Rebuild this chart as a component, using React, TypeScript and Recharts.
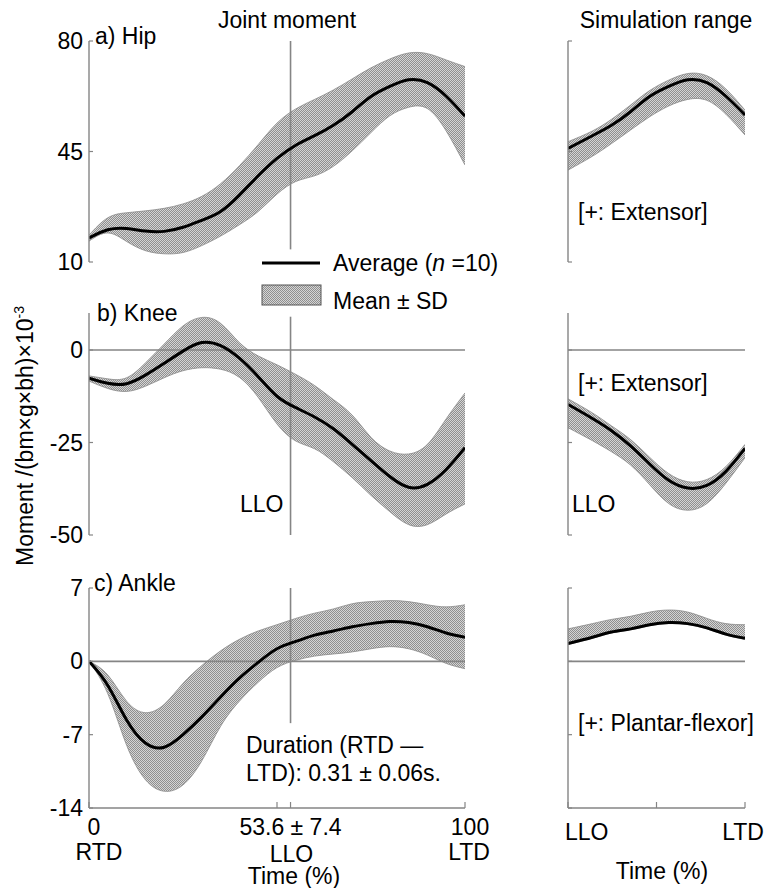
import React from "react";
import { ComposedChart, Area, Line, XAxis, YAxis, ReferenceLine } from "recharts";

// ---------- data ----------
const timeFull = [0, 5, 10, 15, 20, 25, 30, 35, 40, 45, 50, 55, 60, 65, 70, 75, 80, 85, 90, 95, 100];
const timeSim = [53.6, 60, 65, 70, 75, 80, 85, 90, 95, 100];

const hipMean = [17.6, 20.2, 20.6, 19.8, 19.7, 21.0, 23.2, 26.0, 31.2, 37.3, 42.8, 47.0, 50.0, 53.3, 57.6, 62.4, 65.6, 67.7, 66.8, 62.5, 56.2];
const hipUpper = [18.5, 24.0, 25.6, 26.2, 27.0, 28.4, 30.8, 34.8, 40.5, 47.2, 54.0, 58.5, 61.5, 64.5, 68.0, 71.5, 74.3, 76.2, 76.0, 74.0, 71.9];
const hipLower = [16.6, 19.2, 16.5, 13.6, 12.6, 13.0, 15.2, 18.2, 21.8, 26.0, 31.5, 35.5, 37.3, 40.3, 45.2, 51.0, 56.3, 59.0, 58.6, 51.5, 40.7];

const kneeMean = [-7.6, -9.0, -9.1, -6.8, -3.6, -0.3, 2.0, 1.2, -2.2, -7.2, -12.5, -15.6, -18.1, -21.3, -25.5, -29.9, -34.2, -37.1, -36.3, -32.3, -26.4];
const kneeUpper = [-7.0, -7.8, -7.5, -3.5, 1.6, 6.5, 8.8, 7.2, 2.0, -1.6, -4.0, -6.6, -9.6, -13.4, -17.6, -23.6, -27.3, -28.1, -25.5, -18.6, -11.6];
const kneeLower = [-8.4, -10.4, -11.2, -9.8, -7.5, -5.6, -4.8, -5.2, -7.4, -12.8, -20.0, -24.6, -26.7, -30.2, -34.5, -39.3, -43.7, -47.2, -47.2, -44.3, -41.6];

const ankleMean = [0, -2.3, -5.6, -7.8, -8.2, -7.0, -5.3, -3.4, -1.6, -0.1, 1.2, 1.9, 2.5, 2.9, 3.3, 3.6, 3.8, 3.7, 3.3, 2.7, 2.3];
const ankleUpper = [0, -1.3, -3.8, -4.9, -4.1, -2.1, -0.4, 1.0, 2.1, 2.9, 3.5, 4.1, 4.6, 5.0, 5.5, 5.7, 5.8, 5.7, 5.4, 5.2, 5.4];
const ankleLower = [0, -3.1, -8.0, -11.3, -12.4, -11.8, -9.5, -6.2, -3.8, -2.0, -0.6, 0.1, 0.5, 0.7, 0.9, 1.2, 1.4, 1.2, 0.6, -0.2, -0.7];

const simHipMean = [46.0, 50.0, 53.3, 57.6, 62.4, 65.6, 67.7, 66.8, 62.5, 56.6];
const simHipUpper = [48.1, 51.5, 55.2, 59.7, 64.3, 67.6, 69.7, 69.0, 64.8, 58.1];
const simHipLower = [39.1, 43.5, 47.5, 51.8, 56.0, 59.4, 61.5, 61.2, 56.8, 50.2];

const simKneeMean = [-14.7, -18.5, -21.8, -25.9, -30.8, -35.2, -37.3, -36.6, -32.8, -26.6];
const simKneeUpper = [-13.2, -17.0, -20.5, -24.2, -29.0, -33.4, -35.6, -35.0, -31.5, -25.5];
const simKneeLower = [-21.0, -24.5, -27.5, -31.1, -36.4, -41.5, -43.3, -41.5, -36.0, -29.1];

const simAnkleMean = [1.7, 2.3, 2.8, 3.1, 3.5, 3.7, 3.6, 3.2, 2.6, 2.2];
const simAnkleUpper = [3.1, 3.6, 4.0, 4.3, 4.7, 4.9, 4.7, 4.1, 3.6, 3.5];
const simAnkleLower = [1.6, 2.2, 2.7, 3.0, 3.4, 3.6, 3.5, 3.1, 2.5, 2.1];

const hipTicks = [10, 45, 80];
const kneeTicks = [-50, -25, 0];
const ankleTicks = [-14, -7, 0, 7];

const LLO = 53.6;
const leftXTicks = [0, 50, 53.6, 100];
const leftXLabels: Record<string, [string, string]> = {
  "0": ["0", "RTD"],
  "53.6": ["53.6 ± 7.4", "LLO"],
  "100": ["100", "LTD"],
};
const rightXTicks = [53.6, 76.8, 100];
const rightXLabels: Record<string, [string, string]> = {
  "53.6": ["", "LLO"],
  "100": ["", "LTD"],
};

// ---------- helpers ----------
const AX = "#858585";
const FONT = "'Liberation Sans', Arial, sans-serif";
const FS = 23;
const CURVE = "natural";

function build(t: number[], m: number[], lo: number[], hi: number[]) {
  return t.map((x, i) => ({ t: x, mean: m[i], band: [lo[i], hi[i]] }));
}

const makeYTick = (showLabel: boolean) => (props: any) => {
  const { x, y, payload } = props;
  return (
    <g>
      <line x1={x} x2={x + 4} y1={y} y2={y} stroke={AX} strokeWidth={1.2} />
      {showLabel && (
        <text x={x - 6} y={y} dy="0.35em" textAnchor="end" fontSize={FS} fontFamily={FONT} fill="#000">
          {payload.value}
        </text>
      )}
    </g>
  );
};

const makeXTick = (labels: Record<string, [string, string]>, leftAligned: boolean) => (props: any) => {
  const { x, y, payload } = props;
  const lab = labels[String(payload.value)];
  const isLLO = payload.value === LLO;
  const anchorStart = leftAligned && isLLO;
  return (
    <g>
      <line x1={x} x2={x} y1={y} y2={y - 6} stroke={AX} strokeWidth={1.2} />
      {lab && lab[0] && (
        <text x={x + (payload.value === 0 ? 5 : payload.value === 100 ? 5 : 0)} y={y + 27} textAnchor="middle" fontSize={FS} fontFamily={FONT} fill="#000">
          {lab[0]}
        </text>
      )}
      {lab && lab[1] && (
        <text
          x={anchorStart ? x - 3 : x + (payload.value === 0 ? 10 : payload.value === 100 ? (leftAligned ? -2 : 4) : 1)}
          y={leftAligned ? y + 32 : y + (isLLO ? 54 : 52)}
          textAnchor={anchorStart ? "start" : "middle"}
          fontSize={FS}
          fontFamily={FONT}
          fill="#000"
        >
          {lab[1]}
        </text>
      )}
    </g>
  );
};

type PanelProps = {
  left: number;
  width: number;
  yAxisW: number;
  marginRight: number;
  plotTop: number;
  plotH: number;
  data: any[];
  xDomain: [number, number];
  yDomain: [number, number];
  yTicks: number[];
  yLabels: boolean;
  zeroLine?: boolean;
  lloSeg?: [number, number];
  xAxis?: { ticks: number[]; labels: Record<string, [string, string]>; leftAligned: boolean };
};

const MT = 20;
const MB = 16;

function Panel(p: PanelProps) {
  const bottomExtra = p.xAxis ? 70 : 0;
  const h = MT + p.plotH + bottomExtra + MB;
  return (
    <div style={{ position: "absolute", left: p.left, top: p.plotTop - MT, width: p.width, height: h }}>
      <ComposedChart
        width={p.width}
        height={h}
        data={p.data}
        margin={{ top: MT, right: p.marginRight, left: 0, bottom: MB }}
      >
        <XAxis
          dataKey="t"
          type="number"
          domain={p.xDomain}
          allowDataOverflow
          hide={!p.xAxis}
          ticks={p.xAxis ? p.xAxis.ticks : undefined}
          interval={0}
          height={70}
          tickSize={0}
          tickMargin={0}
          tickLine={false}
          axisLine={{ stroke: AX, strokeWidth: 1.4 }}
          tick={p.xAxis ? makeXTick(p.xAxis.labels, p.xAxis.leftAligned) : false}
        />
        <YAxis
          type="number"
          domain={p.yDomain}
          allowDataOverflow
          ticks={p.yTicks}
          interval={0}
          width={p.yAxisW}
          tickSize={0}
          tickMargin={0}
          tickLine={false}
          axisLine={{ stroke: AX, strokeWidth: 1.4 }}
          tick={makeYTick(p.yLabels)}
        />
        {p.zeroLine && <ReferenceLine y={0} stroke={AX} strokeWidth={1.6} ifOverflow="hidden" />}
        <Area
          dataKey="band"
          type={CURVE}
          fill="url(#hatchFill)"
          fillOpacity={1}
          stroke="#8a8a8a"
          strokeWidth={0.8}
          isAnimationActive={false}
          activeDot={false}
          dot={false}
        />
        {p.lloSeg && (
          <ReferenceLine
            segment={[
              { x: LLO, y: p.lloSeg[0] },
              { x: LLO, y: p.lloSeg[1] },
            ]}
            stroke={AX}
            strokeWidth={1.6}
          />
        )}
        <Line
          dataKey="mean"
          type={CURVE}
          stroke="#000"
          strokeWidth={3}
          dot={false}
          activeDot={false}
          isAnimationActive={false}
        />
      </ComposedChart>
    </div>
  );
}

export default function App() {
  const hipL = build(timeFull, hipMean, hipLower, hipUpper);
  const kneeL = build(timeFull, kneeMean, kneeLower, kneeUpper);
  const ankleL = build(timeFull, ankleMean, ankleLower, ankleUpper);
  const hipR = build(timeSim, simHipMean, simHipLower, simHipUpper);
  const kneeR = build(timeSim, simKneeMean, simKneeLower, simKneeUpper);
  const ankleR = build(timeSim, simAnkleMean, simAnkleLower, simAnkleUpper);

  const L = { left: 0, width: 505, yAxisW: 89, marginRight: 40, xDomain: [0, 100] as [number, number] };
  const R = { left: 520, width: 248, yAxisW: 48, marginRight: 23, xDomain: [LLO, 100] as [number, number] };

  const txt = { fontSize: FS, fontFamily: FONT, fill: "#000" };

  return (
    <div style={{ position: "absolute", left: 0, top: 0, width: 768, height: 888, background: "#fff", overflow: "hidden" }}>
      <svg width={0} height={0} style={{ position: "absolute" }}>
        <defs>
          <pattern id="hatchFill" width={2} height={2} patternUnits="userSpaceOnUse">
            <rect width={2} height={2} fill="#d4d4d4" />
            <rect width={1} height={1} fill="#8f8f8f" />
            <rect x={1} y={1} width={1} height={1} fill="#8f8f8f" />
          </pattern>
        </defs>
      </svg>

      <Panel {...L} plotTop={41} plotH={221} data={hipL} yDomain={[10, 80]} yTicks={hipTicks} yLabels lloSeg={[80, 14]} />
      <Panel {...L} plotTop={313} plotH={222} data={kneeL} yDomain={[-50, 10]} yTicks={kneeTicks} yLabels zeroLine lloSeg={[9, -50]} />
      <Panel
        {...L}
        plotTop={588}
        plotH={220}
        data={ankleL}
        yDomain={[-14, 7]}
        yTicks={ankleTicks}
        yLabels
        zeroLine
        lloSeg={[7, -5.9]}
        xAxis={{ ticks: leftXTicks, labels: leftXLabels, leftAligned: false }}
      />

      <Panel {...R} plotTop={41} plotH={221} data={hipR} yDomain={[10, 80]} yTicks={hipTicks} yLabels={false} />
      <Panel {...R} plotTop={313} plotH={222} data={kneeR} yDomain={[-50, 10]} yTicks={kneeTicks} yLabels={false} zeroLine />
      <Panel
        {...R}
        plotTop={588}
        plotH={220}
        data={ankleR}
        yDomain={[-14, 7]}
        yTicks={ankleTicks}
        yLabels={false}
        zeroLine
        xAxis={{ ticks: rightXTicks, labels: rightXLabels, leftAligned: true }}
      />

      <svg width={768} height={888} style={{ position: "absolute", left: 0, top: 0, pointerEvents: "none" }}>
        <text x={287} y={28} textAnchor="middle" {...txt}>Joint moment</text>
        <text x={666} y={28} textAnchor="middle" {...txt}>Simulation range</text>

        <text x={95} y={44} {...txt}>a) Hip</text>
        <text x={97} y={321} {...txt}>b) Knee</text>
        <text x={94} y={591} {...txt}>c) Ankle</text>

        <text transform="translate(33,436) rotate(-90)" textAnchor="middle" {...txt}>
          Moment /(bm×g×bh)×10<tspan dy={-9} fontSize={14}>-3</tspan>
        </text>

        {/* legend */}
        <line x1={262} x2={320} y1={263} y2={263} stroke="#000" strokeWidth={3} />
        <text x={333} y={271} {...txt}>
          Average (<tspan fontStyle="italic">n</tspan> =10)
        </text>
        <rect x={262} y={285} width={59} height={20} fill="url(#hatchFill)" stroke="#555" strokeWidth={1} />
        <text x={333} y={309} {...txt}>Mean ± SD</text>

        {/* annotations */}
        <text x={240} y={512} {...txt}>LLO</text>
        <text x={572} y={512} {...txt}>LLO</text>
        <text x={578} y={220} {...txt}>[+: Extensor]</text>
        <text x={578} y={391} {...txt}>[+: Extensor]</text>
        <text x={578} y={731} {...txt}>[+: Plantar-flexor]</text>
        <text x={246} y={753} {...txt}>Duration (RTD —</text>
        <text x={246} y={781} {...txt}>LTD): 0.31 ± 0.06s.</text>

        <text x={294} y={884} textAnchor="middle" {...txt}>Time (%)</text>
        <text x={662} y={879} textAnchor="middle" {...txt}>Time (%)</text>
      </svg>
    </div>
  );
}
